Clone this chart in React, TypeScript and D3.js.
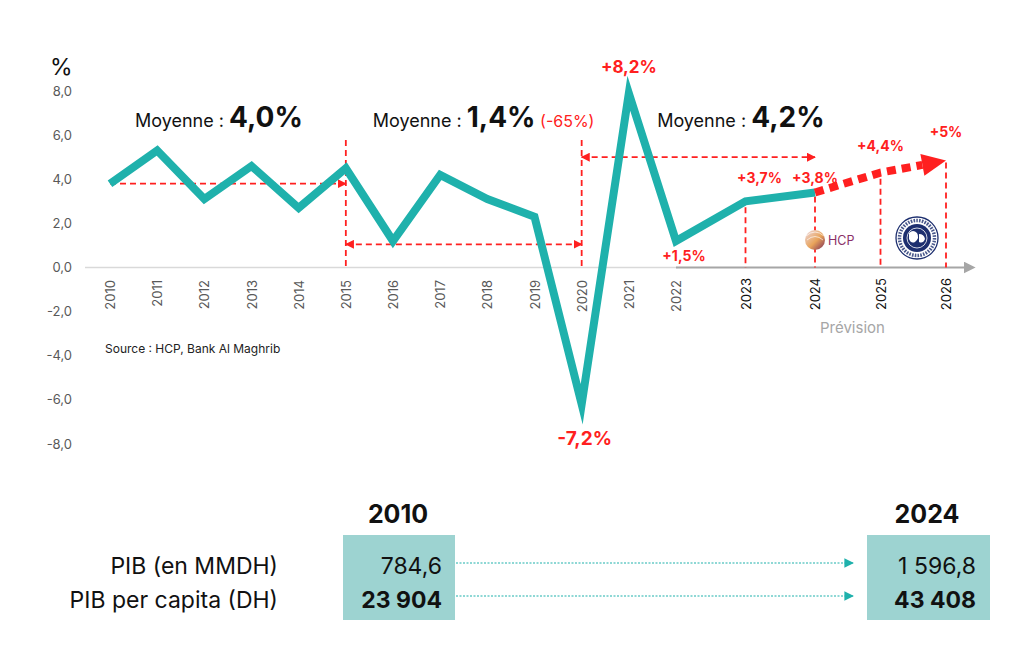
import * as d3 from 'd3'

// growth rate of GDP, values as drawn on the picture
const histYears = [2010, 2011, 2012, 2013, 2014, 2015, 2016, 2017, 2018, 2019, 2020, 2021, 2022, 2023, 2024]
const histValues = [3.8, 5.3, 3.1, 4.6, 2.7, 4.5, 1.2, 4.2, 3.1, 2.3, -6.2, 7.9, 1.2, 3.0, 3.4]
const forecastYears = [2024, 2025, 2026]
const forecastValues = [3.4, 4.3, 4.85]
const allYears = [2010, 2011, 2012, 2013, 2014, 2015, 2016, 2017, 2018, 2019, 2020, 2021, 2022, 2023, 2024, 2025, 2026]
const yTicks = [-8, -6, -4, -2, 0, 2, 4, 6, 8]

// annotations
const pointLabels = [
  { year: 2021, text: '+8,2%', dy: -20, size: 17 },
  { year: 2022, text: '+1,5%', dy: 20, size: 14 },
  { year: 2023, text: '+3,7%', dy: -18, size: 14 },
  { year: 2024, text: '+3,8%', dy: -9, size: 14 },
  { year: 2025, text: '+4,4%', dy: -22, size: 14 },
  { year: 2026, text: '+5%', dy: -23, size: 14 },
]
const averages = [
  { year: 2010.53, label: 'Moyenne : ', value: '4,0%', note: '' },
  { year: 2015.57, label: 'Moyenne : ', value: '1,4%', note: ' (-65%)' },
  { year: 2021.6, label: 'Moyenne : ', value: '4,2%', note: '' },
]

// table below the chart
const rowLabels = ['PIB (en MMDH)', 'PIB per capita (DH)']
const table2010 = ['784,6', '23 904']
const table2024 = ['1 596,8', '43 408']

const teal = '#1fb1ac'
const red = '#ff2020'
const navy = '#1d2f6f'
const font = 'Inter, "Open Sans", sans-serif'

export default function App() {
  const x = d3.scaleLinear().domain([2010, 2022, 2024, 2026]).range([110, 676, 815, 946])
  const y = d3.scaleLinear().domain([-8, 8]).range([444, 91])
  const val = (yr: number) => histValues[histYears.indexOf(yr)]

  const line = d3.line<number>().x((d, i) => x(histYears[i])).y(d => y(d))

  // forecast stops short of the arrow head
  const tipX = x(2026), tipY = y(forecastValues[2])
  const px = x(2025), py = y(forecastValues[1])
  const ang = Math.atan2(tipY - py, tipX - px)
  const headLen = 24
  const baseX = tipX - headLen * Math.cos(ang), baseY = tipY - headLen * Math.sin(ang)
  const fPts: [number, number][] = [
    [x(forecastYears[0]), y(forecastValues[0])],
    [px, py],
    [baseX, baseY],
  ]
  const fLine = d3.line()(fPts)
  const hw = 11
  const head = [
    [tipX, tipY],
    [baseX + hw * Math.sin(ang), baseY - hw * Math.cos(ang)],
    [baseX - hw * Math.sin(ang), baseY + hw * Math.cos(ang)],
  ].map(p => p.join(',')).join(' ')

  const vLines = [
    { year: 2015, top: 140 },
    { year: 2020, top: 140 },
    { year: 2023, top: y(val(2023)) + 6 },
    { year: 2024, top: y(val(2024)) + 4 },
    { year: 2025, top: y(forecastValues[1]) + 6 },
    { year: 2026, top: y(forecastValues[2]) + 2 },
  ]
  const hArrows = [
    { from: 2010, to: 2015, v: 3.8, both: false },
    { from: 2015, to: 2020, v: 1.05, both: true },
    { from: 2020, to: 2024, v: 5.0, both: true },
  ]

  const labelVal = (yr: number) =>
    yr <= 2024 ? val(yr) : forecastValues[forecastYears.indexOf(yr)]

  // IMF seal centre
  const ix = 917, iy = 238

  return (
    <svg width={1024} height={670} style={{ position: 'absolute', left: 0, top: 0, background: '#fff' }} fontFamily={font}>
      <defs>
        <marker id="rEnd" viewBox="0 0 10 10" refX="9" refY="5" markerWidth="5" markerHeight="5" orient="auto-start-reverse" markerUnits="strokeWidth">
          <path d="M0,0 L10,5 L0,10 z" fill={red} />
        </marker>
        <marker id="tEnd" viewBox="0 0 10 10" refX="9" refY="5" markerWidth="8" markerHeight="8" orient="auto" markerUnits="strokeWidth">
          <path d="M0,0 L10,5 L0,10 z" fill={teal} />
        </marker>
        <marker id="gEnd" viewBox="0 0 10 10" refX="2" refY="5" markerWidth="6" markerHeight="6" orient="auto" markerUnits="strokeWidth">
          <path d="M0,0 L10,5 L0,10 z" fill="#a6a6a6" />
        </marker>
        <linearGradient id="hcpG" x1="0" y1="0" x2="1" y2="1">
          <stop offset="0" stopColor="#eedbe3" />
          <stop offset="0.55" stopColor="#e8a35a" />
          <stop offset="1" stopColor="#7a2a55" />
        </linearGradient>
      </defs>

      {/* y axis labels */}
      <text x={50} y={75} fontSize={23} fill="#111">%</text>
      {yTicks.map(t => (
        <text key={t} x={72} y={y(t) + 4.5} textAnchor="end" fontSize={13} fill="#595959">
          {t.toFixed(1).replace('.', ',')}
        </text>
      ))}

      {/* x axis */}
      <line x1={85} x2={678} y1={y(0)} y2={y(0)} stroke="#d9d9d9" strokeWidth={1.5} />
      <line x1={676} x2={966} y1={y(0)} y2={y(0)} stroke="#a6a6a6" strokeWidth={2} markerEnd="url(#gEnd)" />
      {allYears.map(yr => (
        <text key={yr} transform={`translate(${x(yr) + 5},${yr > 2022 ? 278 : 280}) rotate(-90)`}
          textAnchor="end" fontSize={13} fill={yr > 2022 ? '#111' : '#595959'}>
          {yr}
        </text>
      ))}

      {/* red dashed guides */}
      {vLines.map(v => (
        <line key={v.year} x1={x(v.year)} x2={x(v.year)} y1={v.top} y2={y(0)}
          stroke={red} strokeWidth={1.8} strokeDasharray="6,4" />
      ))}
      {hArrows.map(a => (
        <line key={a.from} x1={x(a.from)} x2={x(a.to)} y1={y(a.v)} y2={y(a.v)}
          stroke={red} strokeWidth={1.8} strokeDasharray="6,4"
          markerEnd="url(#rEnd)" markerStart={a.both ? 'url(#rEnd)' : undefined} />
      ))}

      {/* logos */}
      <g>
        <circle cx={815} cy={240} r={10} fill="url(#hcpG)" />
        <path d="M806,236 Q815,228 824,236 M807,240 Q815,233 823,240" fill="none" stroke="#fff" strokeWidth={0.8} opacity={0.8} />
        <text x={828} y={245} fontSize={12.5} fill="#8a2f66">HCP</text>
      </g>
      <g>
        <circle cx={ix} cy={iy} r={21} fill="#fff" stroke={navy} strokeWidth={1.3} />
        <circle cx={ix} cy={iy} r={17.5} fill="none" stroke={navy} strokeWidth={3.5} strokeDasharray="1.6,1.2" opacity={0.8} />
        <circle cx={ix} cy={iy} r={14} fill={navy} />
        <circle cx={ix} cy={iy} r={10} fill="none" stroke="#fff" strokeWidth={0.8} />
        <path d={`M${ix - 8},${iy - 5} q4,-4 8,0 q3,5 -2,9 q-4,2 -6,-3 z M${ix + 2},${iy - 4} q5,0 6,5 q-2,5 -6,3 z`} fill="#fff" />
      </g>

      {/* history line */}
      <path d={line(histValues) ?? ''} fill="none" stroke={teal} strokeWidth={8}
        strokeLinejoin="miter" strokeMiterlimit={10} />

      {/* forecast */}
      <path d={fLine ?? ''} fill="none" stroke={red} strokeWidth={8} strokeDasharray="9,6" />
      <polygon points={head} fill={red} />

      {/* averages */}
      {averages.map(a => (
        <text key={a.year} x={x(a.year)} y={127} fill="#111">
          <tspan fontSize={18}>{a.label}</tspan>
          <tspan fontSize={28} fontWeight="bold">{a.value}</tspan>
          {a.note && <tspan fontSize={16} fill={red}>{a.note}</tspan>}
        </text>
      ))}

      {/* point labels */}
      {pointLabels.map(p => (
        <text key={p.year} x={x(p.year) + (p.year === 2022 ? 8 : p.year === 2023 ? 14 : 0)} y={y(labelVal(p.year)) + p.dy}
          textAnchor="middle" fontSize={p.size} fontWeight="bold" fill={red}>
          {p.text}
        </text>
      ))}
      <text x={x(2020) + 3} y={445} textAnchor="middle" fontSize={19} fontWeight="bold" fill={red}>-7,2%</text>

      <text x={105} y={353} fontSize={12} fill="#222">Source : HCP, Bank Al Maghrib</text>
      <text x={820} y={333} fontSize={15} fill="#a6a6a6">Prévision</text>

      {/* table */}
      {rowLabels.map((r, i) => (
        <text key={r} x={278} y={574 + i * 34} textAnchor="end" fontSize={23} fill="#111">{r}</text>
      ))}
      <text x={398} y={523} textAnchor="middle" fontSize={25} fontWeight="bold" fill="#111">2010</text>
      <rect x={343} y={535} width={112} height={85} fill="#9dd3d1" />
      {table2010.map((v, i) => (
        <text key={v} x={442} y={574 + i * 34} textAnchor="end" fontSize={23}
          fontWeight={i === 1 ? 'bold' : 'normal'} fill="#111">{v}</text>
      ))}
      <text x={927} y={523} textAnchor="middle" fontSize={25} fontWeight="bold" fill="#111">2024</text>
      <rect x={867} y={535} width={123} height={85} fill="#9dd3d1" />
      {table2024.map((v, i) => (
        <text key={v} x={976} y={574 + i * 34} textAnchor="end" fontSize={23}
          fontWeight={i === 1 ? 'bold' : 'normal'} fill="#111">{v}</text>
      ))}
      {[563, 596].map(yy => (
        <line key={yy} x1={456} x2={853} y1={yy} y2={yy} stroke={teal} strokeWidth={1.2}
          strokeDasharray="2,1.5" markerEnd="url(#tEnd)" />
      ))}
    </svg>
  )
}
